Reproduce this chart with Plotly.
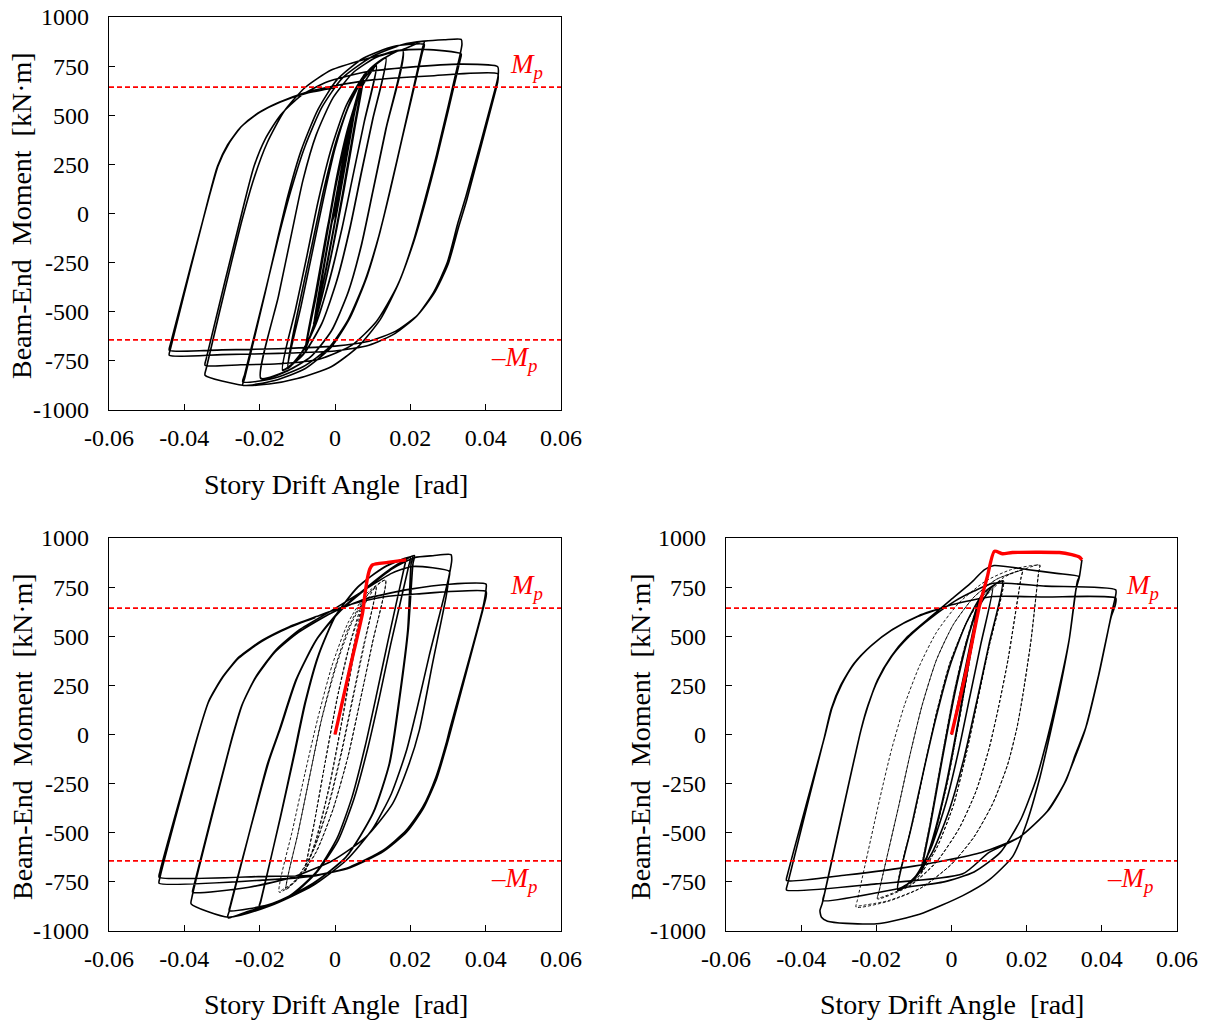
import plotly.graph_objects as go

# ---------------- axis definitions ----------------
X_TICKS = [-0.06, -0.04, -0.02, 0, 0.02, 0.04, 0.06]
X_TICKTEXT = ["-0.06", "-0.04", "-0.02", "0", "0.02", "0.04", "0.06"]
Y_TICKS = [1000, 750, 500, 250, 0, -250, -500, -750, -1000]
Y_TICKTEXT = ["1000", "750", "500", "250", "0", "-250", "-500", "-750", "-1000"]
MP = 643
X_TITLE = "Story Drift Angle\u00a0 [rad]"
Y_TITLE = "Beam-End\u00a0 Moment\u00a0 [kN·m]"

# ---------------- panel 1 (top) : (drift, moment) ----------------
P1_C005 = [
    (0.0, 0), (0.0028, 290), (0.0055, 555),
    (0.0035, 340), (0.0008, 50), (-0.0025, -290), (-0.0056, -560),
    (-0.0036, -345), (-0.0009, -55), (0.0024, 285), (0.0056, 560),
    (0.0036, 345), (0.0009, 55), (-0.0024, -285), (-0.0057, -562),
    (-0.0037, -348), (-0.0010, -60), (0.0023, 282), (0.0056, 562),
    (0.0037, 350), (0.0010, 60), (-0.0023, -282), (-0.0057, -565),
    (-0.0038, -350), (-0.0011, -62), (0.0022, 280), (0.0055, 558),
    (0.0036, 345), (0.0009, 55), (-0.0024, -290), (-0.0056, -560),
    (-0.0035, -340), (-0.0008, -45), (0.0, 0),
]
P1_C0075 = [
    (0.0, 0), (0.003, 300), (0.0055, 540), (0.0075, 700),
    (0.005, 430), (0.002, 100), (-0.001, -210), (-0.0045, -500), (-0.0078, -690),
    (-0.005, -420), (-0.002, -95), (0.001, 220), (0.0045, 500), (0.0076, 705),
    (0.0052, 440), (0.0022, 110), (-0.0012, -230), (-0.0047, -510), (-0.0080, -695),
    (-0.0052, -410), (-0.0021, -80), (0.0012, 230), (0.0046, 505), (0.0078, 710),
    (0.0054, 450), (0.0024, 120), (-0.0010, -215), (-0.0045, -500), (-0.0079, -690),
    (-0.0051, -415), (-0.0020, -85), (0.0011, 225), (0.0045, 500), (0.0077, 708),
    (0.0053, 445), (0.0023, 115), (-0.0011, -222), (-0.0046, -505), (-0.0079, -692),
]
P1_C011 = [
    (-0.0055, -450), (-0.0025, -130), (0.0005, 190), (0.0035, 440), (0.0070, 640), (0.0110, 753),
    (0.0078, 470), (0.0048, 195), (0.0018, -80), (-0.0015, -340), (-0.0050, -560), (-0.0085, -700), (-0.0125, -789),
    (-0.0090, -470), (-0.0060, -195), (-0.0030, 80), (0.0000, 330), (0.0035, 540), (0.0070, 670), (0.0110, 750),
    (0.0077, 460), (0.0047, 185), (0.0017, -90), (-0.0016, -350), (-0.0052, -565), (-0.0088, -705), (-0.0125, -785),
]
P1_C014 = [
    (-0.0090, -420), (-0.0060, -150), (-0.0030, 120), (0.0005, 380), (0.0045, 590), (0.0090, 730), (0.0135, 793),
    (0.0100, 480), (0.0070, 210), (0.0040, -70), (0.0005, -340), (-0.0035, -560), (-0.0085, -720), (-0.0139, -798),
    (-0.0105, -490), (-0.0075, -220), (-0.0045, 60), (-0.0010, 330), (0.0030, 550), (0.0080, 710), (0.0135, 790),
    (0.0101, 485), (0.0071, 215), (0.0041, -65), (0.0006, -335), (-0.0034, -555), (-0.0084, -715), (-0.0139, -795),
]
P1_C019 = [
    (-0.0105, -490), (-0.0075, -220), (-0.0045, 60), (-0.0010, 330), (0.0030, 550), (0.0080, 710), (0.0135, 795), (0.0180, 832),
    (0.0135, 430), (0.0100, 110), (0.0070, -160), (0.0035, -400), (-0.0010, -600), (-0.0065, -730), (-0.0125, -800), (-0.0197, -840),
    (-0.0150, -420), (-0.0115, -100), (-0.0085, 170), (-0.0050, 400), (-0.0005, 590), (0.0050, 720), (0.0110, 795), (0.0180, 830),
    (0.0136, 435), (0.0101, 115), (0.0071, -155), (0.0036, -395), (-0.0009, -595), (-0.0064, -728), (-0.0124, -798), (-0.0197, -838),
]
P1_C024 = [
    (-0.0150, -420), (-0.0115, -100), (-0.0085, 170), (-0.0050, 400), (-0.0005, 590), (0.0050, 720), (0.0110, 795), (0.0180, 835), (0.0237, 877),
    (0.0232, 840), (0.0180, 400), (0.0150, 150), (0.0120, -90), (0.0085, -320), (0.0040, -530), (-0.0010, -680), (-0.0080, -790), (-0.0160, -850), (-0.0245, -874),
    (-0.0240, -840), (-0.0185, -400), (-0.0155, -150), (-0.0125, 90), (-0.0090, 320), (-0.0045, 530), (0.0005, 680), (0.0075, 790), (0.0155, 850), (0.0237, 860),
    (0.0232, 820), (0.0178, 380), (0.0148, 130), (0.0117, -110), (0.0080, -340), (0.0035, -540), (-0.0015, -680), (-0.0085, -780), (-0.0165, -840), (-0.0245, -857),
]
P1_C034 = [
    (-0.0240, -820), (-0.0183, -380), (-0.0150, -120), (-0.0118, 110), (-0.0080, 340), (-0.0035, 540), (0.0020, 690), (0.0100, 800), (0.0180, 860), (0.0237, 877), (0.0290, 884), (0.0335, 886),
    (0.0337, 860), (0.0330, 790), (0.0270, 300), (0.0240, 80), (0.0210, -130), (0.0170, -350), (0.0120, -540), (0.0060, -680), (-0.0010, -780), (-0.0100, -840), (-0.0175, -868), (-0.0245, -874), (-0.0345, -823),
    (-0.0342, -790), (-0.0275, -250), (-0.0245, -20), (-0.0215, 180), (-0.0180, 360), (-0.0135, 520), (-0.0080, 640), (-0.0010, 730), (0.0080, 785), (0.0170, 828), (0.0237, 835), (0.0335, 812),
    (0.0332, 780), (0.0270, 280), (0.0240, 60), (0.0208, -150), (0.0165, -370), (0.0110, -550), (0.0045, -670), (-0.0040, -740), (-0.0150, -765), (-0.0250, -770), (-0.0345, -772),
]
P1_C044 = [
    (-0.0342, -740), (-0.0240, 60), (-0.0215, 240), (-0.0185, 380), (-0.0145, 500), (-0.0090, 600), (-0.0020, 670), (0.0080, 720), (0.0200, 745), (0.0335, 760), (0.0432, 747),
    (0.0433, 700), (0.0426, 640), (0.0348, 90), (0.0326, -50), (0.0298, -250), (0.0262, -400), (0.0218, -520), (0.0160, -610), (0.0090, -670), (0.0000, -700), (-0.0150, -712), (-0.0300, -718), (-0.0440, -721),
    (-0.0437, -690), (-0.0334, 90), (-0.0312, 240), (-0.0285, 350), (-0.0250, 440), (-0.0205, 510), (-0.0150, 565), (-0.0080, 615), (0.0000, 650), (0.0100, 680), (0.0250, 700), (0.0432, 711),
    (0.0432, 670), (0.0427, 630), (0.0350, 70), (0.0328, -70), (0.0300, -260), (0.0265, -400), (0.0220, -515), (0.0160, -600), (0.0090, -650), (0.0000, -675), (-0.0150, -688), (-0.0300, -694), (-0.0440, -696),
    (-0.0437, -665), (-0.0332, 100), (-0.0310, 245), (-0.0282, 355), (-0.0247, 445), (-0.0200, 515), (-0.0145, 568), (-0.0075, 612), (0.0000, 640),
]

# ---------------- panel 2 (bottom left) ----------------
P2_RED = [(0.0, 0), (0.0040, 340), (0.0073, 617), (0.0080, 720), (0.0087, 804), (0.0093, 845),
          (0.0100, 864), (0.0140, 876), (0.0189, 889)]
P2_D0075 = [
    (0.0, 0), (0.0035, 320), (0.0075, 680),
    (0.0050, 420), (0.0020, 90), (-0.0015, -260), (-0.0050, -530), (-0.0080, -700),
    (-0.0055, -450), (-0.0025, -130), (0.0010, 220), (0.0045, 500), (0.0076, 690),
    (0.0052, 430), (0.0022, 100), (-0.0013, -250), (-0.0048, -525), (-0.0080, -700),
]
P2_D011 = [
    (-0.0055, -450), (-0.0025, -130), (0.0005, 180), (0.0035, 430), (0.0070, 630), (0.0109, 753),
    (0.0078, 460), (0.0048, 185), (0.0018, -90), (-0.0015, -350), (-0.0055, -580), (-0.0095, -720), (-0.0130, -790),
    (-0.0098, -500), (-0.0068, -220), (-0.0038, 60), (-0.0003, 320), (0.0035, 540), (0.0070, 670), (0.0109, 750),
    (0.0076, 455), (0.0046, 180), (0.0016, -95), (-0.0017, -355), (-0.0057, -585), (-0.0097, -720), (-0.0130, -788),
]
P2_D014 = [
    (-0.0098, -500), (-0.0068, -220), (-0.0035, 80), (0.0005, 360), (0.0045, 570), (0.0090, 720), (0.0134, 787),
    (0.0100, 470), (0.0068, 180), (0.0035, -110), (-0.0005, -380), (-0.0050, -600), (-0.0100, -740), (-0.0148, -803),
    (-0.0112, -480), (-0.0080, -200), (-0.0046, 80), (-0.0008, 350), (0.0035, 570), (0.0085, 720), (0.0134, 785),
    (0.0099, 465), (0.0067, 175), (0.0034, -115), (-0.0006, -385), (-0.0051, -600), (-0.0101, -740), (-0.0148, -800),
]
P2_CA = [
    (0.0189, 889), (0.0185, 860), (0.0140, 470), (0.0110, 200), (0.0080, -60), (0.0045, -320), (0.0005, -530), (-0.0050, -700), (-0.0120, -820), (-0.0201, -879),
    (-0.0197, -850), (-0.0145, -420), (-0.0110, -110), (-0.0080, 160), (-0.0045, 400), (0.0000, 600), (0.0060, 750), (0.0130, 850), (0.0200, 900),
    (0.0196, 860), (0.0148, 460), (0.0118, 190), (0.0087, -70), (0.0050, -330), (0.0008, -540), (-0.0050, -705), (-0.0120, -825), (-0.0201, -875),
    (-0.0197, -845), (-0.0144, -415), (-0.0108, -105), (-0.0078, 165), (-0.0043, 405), (0.0002, 605), (0.0062, 752), (0.0130, 852), (0.0206, 905),
]
P2_CB = [
    (0.0202, 870), (0.0193, 532), (0.0171, 192), (0.0144, -148), (0.0100, -403), (0.0029, -624), (-0.0059, -760), (-0.0166, -862), (-0.0230, -900), (-0.0283, -934),
    (-0.0285, -925), (-0.0281, -900), (-0.0179, -148), (-0.0148, 22), (-0.0104, 277), (-0.0050, 481), (0.0012, 630), (0.0082, 745), (0.0153, 850), (0.0211, 910),
    (0.0207, 870), (0.0195, 540), (0.0173, 200), (0.0146, -140), (0.0102, -398), (0.0031, -620), (-0.0057, -755), (-0.0164, -860), (-0.0281, -896),
    (-0.0278, -870), (-0.0176, -140), (-0.0145, 30), (-0.0101, 285), (-0.0047, 488), (0.0015, 630), (0.0085, 745), (0.0153, 845), (0.0211, 900), (0.0260, 910), (0.0308, 915),
]
P2_CC = [
    (0.0310, 890), (0.0302, 800), (0.0250, 400), (0.0220, 150), (0.0190, -80), (0.0150, -300), (0.0100, -480), (0.0030, -640), (-0.0060, -770), (-0.0170, -870), (-0.0283, -930), (-0.0382, -862),
    (-0.0380, -830), (-0.0272, -12), (-0.0245, 158), (-0.0210, 294), (-0.0157, 430), (-0.0095, 532), (-0.0006, 634), (0.0082, 740), (0.0150, 820), (0.0206, 855), (0.0304, 830),
    (0.0302, 790), (0.0295, 702), (0.0259, 362), (0.0224, 22), (0.0197, -148), (0.0153, -352), (0.0082, -522), (-0.0006, -641), (-0.0112, -726), (-0.0228, -777), (-0.0378, -803),
]
P2_CD = [
    (-0.0376, -780), (-0.0274, -20), (-0.0247, 150), (-0.0212, 285), (-0.0159, 420), (-0.0097, 520), (-0.0008, 620), (0.0080, 690), (0.0200, 740), (0.0304, 765), (0.0401, 765),
    (0.0401, 740), (0.0392, 640), (0.0304, 22), (0.0295, -46), (0.0268, -216), (0.0233, -369), (0.0189, -488), (0.0127, -590), (0.0038, -675), (-0.0050, -718), (-0.0183, -740), (-0.0467, -757),
    (-0.0465, -730), (-0.0360, 22), (-0.0334, 175), (-0.0298, 294), (-0.0254, 396), (-0.0192, 481), (-0.0121, 549), (-0.0050, 600), (0.0038, 660), (0.0127, 700), (0.0215, 715), (0.0401, 728),
    (0.0401, 700), (0.0392, 630), (0.0306, 10), (0.0296, -60), (0.0270, -225), (0.0235, -375), (0.0191, -495), (0.0129, -595), (0.0040, -678), (-0.0050, -715), (-0.0183, -722), (-0.0467, -726),
    (-0.0465, -700), (-0.0362, 10), (-0.0336, 165), (-0.0300, 285), (-0.0256, 388), (-0.0194, 474), (-0.0123, 543), (-0.0052, 595),
]

# ---------------- panel 3 (bottom right) ----------------
P3_RED = [(0.0, 0), (0.0040, 330), (0.0074, 651), (0.0095, 800), (0.0114, 932), (0.0136, 920),
          (0.0162, 926), (0.0287, 926), (0.0320, 915), (0.0340, 903), (0.0347, 889)]
P3_S0075 = [
    (0.0, 0), (0.0035, 320), (0.0075, 690),
    (0.0050, 420), (0.0020, 90), (-0.0015, -260), (-0.0050, -530), (-0.0080, -700),
    (-0.0055, -450), (-0.0025, -130), (0.0010, 220), (0.0045, 500), (0.0076, 695),
    (0.0052, 430), (0.0022, 100), (-0.0013, -250), (-0.0048, -525), (-0.0080, -700),
]
P3_S011 = [
    (-0.0055, -450), (-0.0025, -130), (0.0005, 180), (0.0035, 430), (0.0070, 640), (0.0110, 753),
    (0.0078, 460), (0.0048, 185), (0.0018, -90), (-0.0015, -350), (-0.0055, -580), (-0.0095, -720), (-0.0143, -794),
    (-0.0108, -480), (-0.0076, -200), (-0.0042, 80), (-0.0004, 350), (0.0040, 570), (0.0085, 720), (0.0135, 780),
    (0.0100, 460), (0.0068, 175), (0.0034, -115), (-0.0006, -385), (-0.0051, -600), (-0.0101, -740), (-0.0143, -790),
]
P3_D0075 = [
    (0.0, 0), (0.0035, 310), (0.0077, 690),
    (0.0052, 420), (0.0022, 90), (-0.0013, -260), (-0.0048, -530), (-0.0082, -705),
    (-0.0057, -450), (-0.0027, -130), (0.0008, 220), (0.0043, 500), (0.0077, 695),
    (0.0054, 440), (0.0024, 110), (-0.0011, -240), (-0.0046, -520), (-0.0082, -700),
]
P3_D014 = [
    (-0.0057, -450), (-0.0027, -130), (0.0005, 200), (0.0040, 480), (0.0085, 690), (0.0138, 784),
    (0.0100, 450), (0.0070, 180), (0.0040, -90), (0.0005, -360), (-0.0040, -580), (-0.0090, -730), (-0.0143, -794),
    (-0.0100, -420), (-0.0070, -150), (-0.0040, 110), (-0.0005, 360), (0.0040, 570), (0.0090, 720), (0.0138, 782),
    (0.0101, 455), (0.0071, 185), (0.0041, -85), (0.0006, -355), (-0.0039, -575), (-0.0089, -725), (-0.0143, -790),
]
P3_D019 = [
    (-0.0100, -420), (-0.0070, -150), (-0.0040, 110), (-0.0005, 360), (0.0040, 570), (0.0090, 720), (0.0140, 800), (0.0189, 838),
    (0.0185, 800), (0.0150, 380), (0.0125, 140), (0.0100, -70), (0.0065, -290), (0.0020, -480), (-0.0040, -650), (-0.0110, -770), (-0.0197, -837),
    (-0.0193, -800), (-0.0140, -360), (-0.0110, -100), (-0.0078, 150), (-0.0040, 380), (0.0005, 560), (0.0060, 700), (0.0120, 790), (0.0189, 835),
    (0.0185, 795), (0.0151, 385), (0.0126, 145), (0.0101, -65), (0.0066, -285), (0.0021, -475), (-0.0039, -645), (-0.0109, -765), (-0.0197, -832),
]
P3_D024 = [
    (-0.0193, -800), (-0.0140, -360), (-0.0110, -100), (-0.0078, 150), (-0.0040, 380), (0.0005, 560), (0.0060, 700), (0.0120, 790), (0.0189, 838), (0.0235, 864),
    (0.0232, 830), (0.0212, 481), (0.0190, 200), (0.0175, 40), (0.0150, -150), (0.0110, -350), (0.0060, -520), (0.0000, -660), (-0.0080, -780), (-0.0170, -850), (-0.0254, -879),
    (-0.0250, -840), (-0.0190, -320), (-0.0160, -80), (-0.0125, 150), (-0.0085, 350), (-0.0040, 520), (0.0020, 670), (0.0090, 780), (0.0160, 840), (0.0235, 860),
    (0.0232, 825), (0.0211, 475), (0.0189, 195), (0.0174, 35), (0.0149, -155), (0.0109, -355), (0.0059, -525), (-0.0001, -662), (-0.0079, -778), (-0.0169, -846), (-0.0254, -875),
]
P3_C034 = [
    (0.0347, 889), (0.0340, 800), (0.0331, 736), (0.0313, 481), (0.0285, 200), (0.0262, 0), (0.0235, -220), (0.0200, -450), (0.0163, -620), (0.0100, -740), (0.0030, -820), (-0.0085, -915), (-0.0191, -962), (-0.0280, -961), (-0.0330, -950), (-0.0346, -930), (-0.0350, -896),
    (-0.0344, -860), (-0.0241, 22), (-0.0223, 141), (-0.0197, 277), (-0.0161, 396), (-0.0117, 498), (-0.0055, 600), (-0.0002, 685), (0.0051, 770), (0.0087, 838), (0.0113, 860), (0.0200, 840), (0.0280, 820), (0.0339, 804),
    (0.0335, 780), (0.0331, 736), (0.0313, 481), (0.0280, 180), (0.0255, -20), (0.0225, -230), (0.0185, -430), (0.0130, -600), (0.0060, -700), (-0.0020, -750), (-0.0120, -777), (-0.0342, -845),
]
P3_C044 = [
    (-0.0338, -810), (-0.0240, 30), (-0.0222, 150), (-0.0195, 280), (-0.0158, 400), (-0.0112, 500), (-0.0050, 600), (0.0010, 680), (0.0060, 730), (0.0110, 770), (0.0250, 755), (0.0437, 736),
    (0.0436, 700), (0.0428, 634), (0.0393, 313), (0.0358, 39), (0.0330, -100), (0.0305, -233), (0.0260, -380), (0.0181, -522), (0.0100, -600), (0.0030, -709), (-0.0200, -760), (-0.0439, -791),
    (-0.0436, -760), (-0.0338, -12), (-0.0320, 130), (-0.0295, 250), (-0.0260, 360), (-0.0215, 450), (-0.0160, 530), (-0.0090, 600), (0.0000, 660), (0.0110, 702), (0.0250, 700), (0.0437, 694),
    (0.0436, 660), (0.0425, 600), (0.0390, 290), (0.0355, 20), (0.0328, -120), (0.0300, -250), (0.0255, -390), (0.0181, -522), (0.0080, -600), (-0.0100, -670), (-0.0280, -715), (-0.0439, -743),
    (-0.0436, -710), (-0.0336, 0), (-0.0318, 135), (-0.0292, 255), (-0.0257, 365), (-0.0212, 455), (-0.0157, 535), (-0.0087, 605), (0.0000, 660),
]

# ---------------- figure ----------------
W, H = 1207, 1021
FONT = "Liberation Serif, Times New Roman, serif"
BLACK_W = 1.6


def px(xw):
    return xw / W


def py(yw):
    return 1 - yw / H


def xs(path):
    return [p[0] for p in path]


def ys(path):
    return [p[1] for p in path]


fig = go.Figure()


def add_path(path, ax, color="black", width=BLACK_W, dash=None, shape="spline"):
    fig.add_trace(go.Scatter(
        x=xs(path), y=ys(path), mode="lines", xaxis=ax[0], yaxis=ax[1],
        line=dict(color=color, width=width, dash=dash, shape=shape, smoothing=0.6),
        showlegend=False, hoverinfo="skip"))


AX1, AX2, AX3 = ("x", "y"), ("x2", "y2"), ("x3", "y3")

# panel 1
add_path(P1_C005 + P1_C0075 + P1_C011 + P1_C014 + P1_C019 + P1_C024 + P1_C034 + P1_C044, AX1)
# panel 2
add_path(P2_D0075 + P2_D011 + P2_D014, AX2, width=0.9, dash="3px,2px")
add_path(P2_CA + P2_CB + P2_CC + P2_CD, AX2)
add_path(P2_RED, AX2, color="#ff0000", width=3.4)
# panel 3
add_path(P3_D0075 + P3_D014 + P3_D019 + P3_D024, AX3, width=0.9, dash="3px,2px")
add_path(P3_S0075 + P3_S011, AX3)
add_path(P3_C034 + P3_C044, AX3)
add_path(P3_RED, AX3, color="#ff0000", width=3.4)

# Mp lines
for ax in (AX1, AX2, AX3):
    for v in (MP, -MP):
        fig.add_trace(go.Scatter(x=[X_TICKS[0], X_TICKS[-1]], y=[v, v], mode="lines",
                                 xaxis=ax[0], yaxis=ax[1],
                                 line=dict(color="#ff0000", width=1.8, dash="5px,3px"),
                                 showlegend=False, hoverinfo="skip"))

DOM = {
    1: ([px(109), px(561)], [py(410), py(17)]),
    2: ([px(109), px(561)], [py(931), py(538)]),
    3: ([px(726), px(1177)], [py(931), py(538)]),
}

common_axis = dict(showline=True, mirror=True, linecolor="black", linewidth=1.2,
                   ticks="inside", ticklen=6, tickwidth=1, tickcolor="black",
                   showgrid=False, zeroline=False, automargin=False,
                   ticklabeloverflow="allow",
                   tickfont=dict(family=FONT, size=24, color="black"))

layout = dict(width=W, height=H, margin=dict(l=0, r=0, t=0, b=0, autoexpand=False),
              paper_bgcolor="white", plot_bgcolor="white", showlegend=False)
for i in (1, 2, 3):
    xk = "xaxis" if i == 1 else f"xaxis{i}"
    yk = "yaxis" if i == 1 else f"yaxis{i}"
    xa = "x" if i == 1 else f"x{i}"
    ya = "y" if i == 1 else f"y{i}"
    layout[xk] = dict(common_axis, domain=DOM[i][0], anchor=ya, range=[-0.06, 0.06],
                      tickvals=X_TICKS, ticktext=X_TICKTEXT, ticklabelstandoff=6)
    layout[yk] = dict(common_axis, domain=DOM[i][1], anchor=xa, range=[-1000, 1000],
                      tickvals=Y_TICKS, ticktext=Y_TICKTEXT, ticklabelstandoff=14)
fig.update_layout(**layout)

annotations = []
# axis titles
for (cx, cy_x) in [(335.5, 484), (335.5, 1004), (951.5, 1004)]:
    annotations.append(dict(text=X_TITLE, x=px(cx), y=py(cy_x), xref="paper", yref="paper",
                            showarrow=False, xanchor="center", yanchor="middle",
                            font=dict(family=FONT, size=28, color="black")))
for (cx, cy) in [(22, 216), (22, 737), (640, 737)]:
    annotations.append(dict(text=Y_TITLE, x=px(cx), y=py(cy), xref="paper", yref="paper",
                            showarrow=False, xanchor="center", yanchor="middle", textangle=-90,
                            font=dict(family=FONT, size=28, color="black")))
# Mp labels
for ax in (AX1, AX2, AX3):
    annotations.append(dict(text="<i>M<sub>p</sub></i>", x=0.0508, y=750, xref=ax[0], yref=ax[1],
                            showarrow=False, xanchor="center", yanchor="middle",
                            font=dict(family=FONT, size=27, color="#ff0000")))
    annotations.append(dict(text="<i>\u2013M<sub>p</sub></i>", x=0.0476, y=-738, xref=ax[0], yref=ax[1],
                            showarrow=False, xanchor="center", yanchor="middle",
                            font=dict(family=FONT, size=27, color="#ff0000")))
fig.update_layout(annotations=annotations)

# remove the default 8 px page margin so the figure sits at the window corner
fig.write_html("out.html",
               config={"displayModeBar": False},
               post_script="document.body.style.margin='0px';document.body.style.padding='0px';")
